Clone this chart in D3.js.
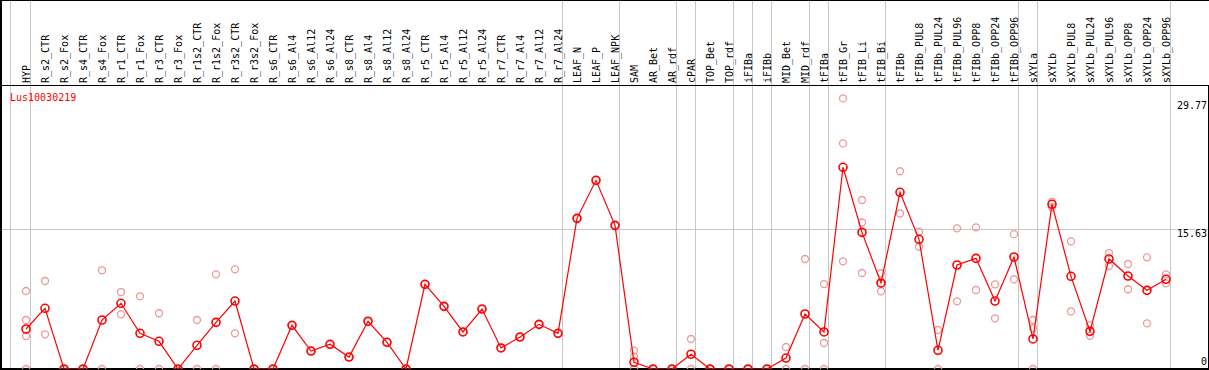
<html>

<head>
    <script src="https://cdn.jsdelivr.net/npm/d3@7"></script>
    <style>
        body { margin: 0; background: #fff; }
        text { font-family: "DejaVu Sans Mono", monospace; font-size: 10px; }
    </style>
</head>

<body>
    <script>

        var geneName = 'Lus10030219';

        var samples = ['HYP', 'R_s2_CTR', 'R_s2_Fox', 'R_s4_CTR', 'R_s4_Fox', 'R_r1_CTR', 'R_r1_Fox',
            'R_r3_CTR', 'R_r3_Fox', 'R_r1s2_CTR', 'R_r1s2_Fox', 'R_r3s2_CTR', 'R_r3s2_Fox',
            'R_s6_CTR', 'R_s6_Al4', 'R_s6_Al12', 'R_s6_Al24', 'R_s8_CTR', 'R_s8_Al4', 'R_s8_Al12', 'R_s8_Al24',
            'R_r5_CTR', 'R_r5_Al4', 'R_r5_Al12', 'R_r5_Al24', 'R_r7_CTR', 'R_r7_Al4', 'R_r7_Al12', 'R_r7_Al24',
            'LEAF_N', 'LEAF_P', 'LEAF_NPK', 'SAM', 'AR_Bet', 'AR_rdf', 'cPAR', 'TOP_Bet', 'TOP_rdf',
            'iFIBa', 'iFIBb', 'MID_Bet', 'MID_rdf', 'tFIBa', 'tFIB_Gr', 'tFIB_Li', 'tFIB_Bi',
            'tFIBb', 'tFIBb_PUL8', 'tFIBb_PUL24', 'tFIBb_PUL96', 'tFIBb_OPP8', 'tFIBb_OPP24', 'tFIBb_OPP96',
            'sXYLa', 'sXYLb', 'sXYLb_PUL8', 'sXYLb_PUL24', 'sXYLb_PUL96', 'sXYLb_OPP8', 'sXYLb_OPP24', 'sXYLb_OPP96'];

        var means = [4.45, 6.75, 0, 0, 5.45, 7.31, 3.97, 3.08, 0, 2.64, 5.19, 7.56, 0,
            0, 4.86, 2.0, 2.75, 1.33, 5.31, 2.97, 0, 9.42, 6.97, 4.12, 6.67, 2.34, 3.56, 4.97, 3.97,
            16.76, 20.99, 15.98, 0.75, 0, 0, 1.64, 0, 0, 0, 0, 1.22, 6.12, 4.12, 22.44, 15.2, 9.57,
            19.66, 14.43, 2.08, 11.57, 12.31, 7.56, 12.46, 3.34, 18.32, 10.31, 4.19, 12.24, 10.34, 8.75, 9.98];

        var replicates = [[8.68, 5.45, 3.67, 0], [9.79, 3.86], [0, 0], [0, 0], [10.98, 0], [8.56, 6.08], [8.09, 0],
            [6.2, 0], [0, 0], [5.45, 0], [10.53, 0], [11.09, 3.97], [0, 0],
            [0], [4.86], [2.0], [2.75], [1.33], [5.31], [2.97], [0], [9.42], [6.97], [4.12], [6.67], [2.34], [3.56], [4.97], [3.97],
            [16.76], [20.99], [15.98], [2.04, 1.37, 0], [0, 0], [0, 0], [3.34, 0], [0, 0], [0, 0], [0, 0], [0, 0],
            [2.45, 0], [12.24, 0], [9.45, 2.89, 0], [30.1, 25.1, 11.98], [18.8, 16.3, 10.68], [10.65, 9.5, 8.64],
            [22.0, 17.3], [15.27, 13.6], [4.34, 0], [15.65, 7.53], [15.76, 8.79], [9.42, 5.64], [15.0, 9.98],
            [5.45, 4.53, 0], [18.6, 18.0], [14.2, 6.42], [4.86, 3.7], [12.9, 11.46], [11.68, 8.87], [12.42, 5.08], [10.53, 9.53]];

        // index of last sample in each group
        var groupEnds = [0, 28, 31, 34, 35, 37, 38, 39, 41, 42, 45, 52, 53, 60];

        var tickValues = [29.77, 15.63, 0];
        var gridValues = [15.63];


        var w = 1209, h = 370;
        var headerH = 85, bottom = 369;

        var x = d3.scaleLinear()
            .domain([0, samples.length - 1])
            .range([26, 1166]);

        var y = d3.scaleLinear()
            .domain([0, 29.77])
            .range([bottom, 101.4]);

        var svg = d3.select('body')
            .append('svg')
            .attr('width', w)
            .attr('height', h);

        svg.append('defs')
            .append('clipPath')
            .attr('id', 'plotclip')
            .append('rect')
            .attr('x', 0)
            .attr('y', headerH)
            .attr('width', w)
            .attr('height', bottom - headerH);

        // grid
        svg.selectAll('line.grid')
            .data(gridValues)
            .enter()
            .append('line')
            .attr('class', 'grid')
            .attr('x1', 0)
            .attr('x2', w)
            .attr('y1', (d) => { return Math.round(y(d)) + 0.5 })
            .attr('y2', (d) => { return Math.round(y(d)) + 0.5 })
            .attr('stroke', '#c8c8c8');

        svg.append('line')
            .attr('x1', 10.5).attr('x2', 10.5)
            .attr('y1', 0).attr('y2', bottom)
            .attr('stroke', '#c8c8c8');

        svg.selectAll('line.sep')
            .data(groupEnds)
            .enter()
            .append('line')
            .attr('class', 'sep')
            .attr('x1', (d) => { return x(d) + 4.5 })
            .attr('x2', (d) => { return x(d) + 4.5 })
            .attr('y1', 0)
            .attr('y2', bottom)
            .attr('stroke', '#c8c8c8');

        // sample labels
        svg.selectAll('text.sample')
            .data(samples)
            .enter()
            .append('text')
            .attr('class', 'sample')
            .attr('transform', (d, i) => { return 'translate(' + (x(i) + 4) + ',' + (headerH - 2) + ') rotate(-90)' })
            .text((d) => { return d })
            .attr('fill', '#000');

        // frame
        svg.append('line').attr('x1', 0).attr('x2', w).attr('y1', 0.5).attr('y2', 0.5).attr('stroke', '#000');
        svg.append('line').attr('x1', 0).attr('x2', w).attr('y1', headerH + 0.5).attr('y2', headerH + 0.5).attr('stroke', '#000');
        svg.append('line').attr('x1', 0).attr('x2', w).attr('y1', bottom).attr('y2', bottom).attr('stroke', '#000').attr('stroke-width', 2);
        svg.append('line').attr('x1', 1).attr('x2', 1).attr('y1', 0).attr('y2', h).attr('stroke', '#000').attr('stroke-width', 2);
        svg.append('line').attr('x1', 1208.5).attr('x2', 1208.5).attr('y1', headerH).attr('y2', h).attr('stroke', '#000');

        var plot = svg.append('g').attr('clip-path', 'url(#plotclip)');

        var pale = [];
        replicates.forEach((r, i) => {
            r.forEach((v) => { pale.push({ i: i, v: v }) });
        });

        plot.selectAll('circle.rep')
            .data(pale)
            .enter()
            .append('circle')
            .attr('class', 'rep')
            .attr('cx', (d) => { return x(d.i) })
            .attr('cy', (d) => { return y(d.v) })
            .attr('r', 3.5)
            .attr('fill', 'none')
            .attr('stroke', '#eb9a9a')
            .attr('stroke-width', 1.3);

        var line = d3.line()
            .x((d, i) => { return x(i) })
            .y((d) => { return y(d) });

        plot.append('path')
            .attr('d', line(means))
            .attr('fill', 'none')
            .attr('stroke', '#ff0000')
            .attr('stroke-width', 1.2);

        plot.selectAll('circle.mean')
            .data(means)
            .enter()
            .append('circle')
            .attr('class', 'mean')
            .attr('cx', (d, i) => { return x(i) })
            .attr('cy', (d) => { return y(d) })
            .attr('r', 4)
            .attr('fill', 'none')
            .attr('stroke', '#ff0000')
            .attr('stroke-width', 1.6);

        // value labels on the right
        svg.selectAll('text.tick')
            .data(tickValues)
            .enter()
            .append('text')
            .attr('class', 'tick')
            .attr('x', 1207)
            .attr('y', (d) => { return Math.min(y(d) + 8, 365) })
            .attr('text-anchor', 'end')
            .text((d) => { return d })
            .attr('fill', '#000');

        svg.append('text')
            .attr('x', 10)
            .attr('y', 100.5)
            .text(geneName)
            .attr('fill', '#ff0000');

    </script>

</body>

</html>
